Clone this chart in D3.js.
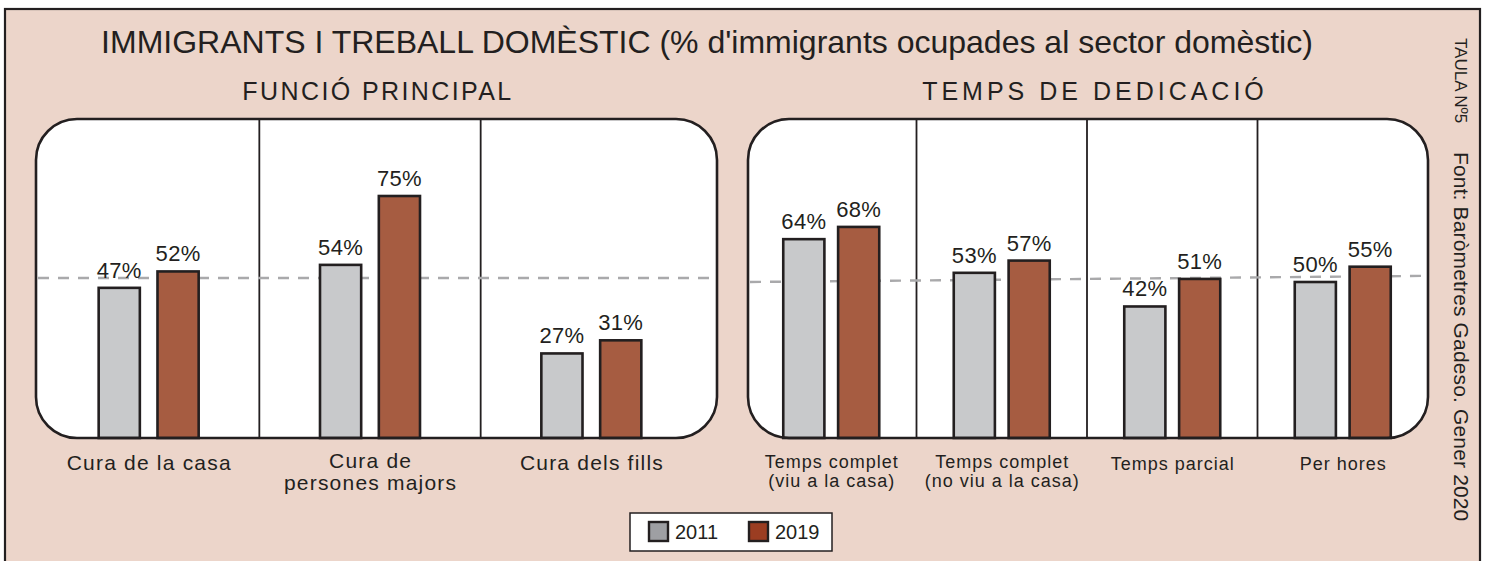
<!DOCTYPE html>
<html>
<head>
<meta charset="utf-8">
<script src="https://cdn.jsdelivr.net/npm/d3@7"></script>
<style>
  html, body { margin: 0; padding: 0; background: #ffffff; }
  svg { display: block; font-family: "Liberation Sans", Arial, Helvetica, sans-serif; }
</style>
</head>
<body>
<svg id="chart" width="1487" height="561"></svg>
<script>
// ---------- DATA ----------
const years = ["2011", "2019"];
const funcioCategories = ["Cura de la casa", "Cura de|persones majors", "Cura dels fills"];
const funcio2011 = [47, 54, 27];
const funcio2019 = [52, 75, 31];
const funcioReference = [50, 50];           // dashed reference line (start, end)

const tempsCategories = ["Temps complet|(viu a la casa)", "Temps complet|(no viu a la casa)", "Temps parcial", "Per hores"];
const temps2011 = [64, 53, 42, 50];
const temps2019 = [68, 57, 51, 55];
const tempsReference = [50, 52];            // dashed reference line (start, end)

const titleText = "IMMIGRANTS I TREBALL DOMÈSTIC (% d'immigrants ocupades al sector domèstic)";
const funcioTitle = "FUNCIÓ PRINCIPAL";
const tempsTitle = "TEMPS DE DEDICACIÓ";
const tableLabel = "TAULA Nº5";
const sourceLabel = "Font: Baròmetres Gadeso. Gener 2020";

// ---------- STYLE ----------
const C = {
  bg: "#ecd5ca",
  ink: "#231f20",
  bar: { "2011": "#c8c9cb", "2019": "#a65c41" },
  legend: { "2011": "#9e9fa3", "2019": "#9b3d22" },
  dash: "#a9a9ab"
};

const svg = d3.select("#chart");

// outer frame
svg.append("rect")
  .attr("x", 5).attr("y", 9).attr("width", 1475).attr("height", 600)
  .attr("fill", C.bg).attr("stroke", C.ink).attr("stroke-width", 2.2);

// title
svg.append("text")
  .attr("x", 707).attr("y", 53)
  .attr("text-anchor", "middle")
  .attr("font-size", 32).attr("fill", C.ink)
  .text(titleText);

// vertical side texts
svg.append("text")
  .attr("transform", "translate(1455,38) rotate(90)")
  .attr("font-size", 17).attr("fill", C.ink)
  .text(tableLabel);
svg.append("text")
  .attr("transform", "translate(1454,152) rotate(90)")
  .attr("font-size", 21).attr("fill", C.ink)
  .attr("letter-spacing", 0.15)
  .text(sourceLabel);

function panel(cfg) {
  const g = svg.append("g");
  const { categories, v2011, v2019, reference, px0, px1, top, bottom, bandRange, yRange,
          groupWidth, labelSize, labelSpacing, lineGap, subtitle, subX, subSpacing } = cfg;

  const x = d3.scaleBand().domain(categories).range(bandRange);
  const x1 = d3.scaleBand().domain(years)
    .range([-groupWidth / 2, groupWidth / 2]).paddingInner(cfg.innerPad);
  const y = d3.scaleLinear().domain([0, 100]).range(yRange);

  // subtitle
  svg.append("text")
    .attr("x", subX).attr("y", 100)
    .attr("text-anchor", "middle")
    .attr("font-size", 25).attr("letter-spacing", subSpacing).attr("fill", C.ink)
    .text(subtitle);

  // panel background
  g.append("rect")
    .attr("x", px0).attr("y", top)
    .attr("width", px1 - px0).attr("height", bottom - top)
    .attr("rx", 41).attr("ry", 41)
    .attr("fill", "#ffffff");

  // dividers
  categories.slice(1).forEach(c => {
    g.append("line")
      .attr("x1", x(c)).attr("x2", x(c))
      .attr("y1", top).attr("y2", bottom)
      .attr("stroke", C.ink).attr("stroke-width", 1.8);
  });

  // dashed reference line
  g.append("line")
    .attr("x1", px0 + 2).attr("x2", px1 - 5)
    .attr("y1", y(reference[0])).attr("y2", y(reference[1]))
    .attr("stroke", C.dash).attr("stroke-width", 2.4)
    .attr("stroke-dasharray", "11,9");

  const rows = [];
  categories.forEach((c, i) => {
    rows.push({ cat: c, year: "2011", v: v2011[i] });
    rows.push({ cat: c, year: "2019", v: v2019[i] });
  });
  const cx = d => x(d.cat) + x.bandwidth() / 2 + x1(d.year);

  // bars
  g.selectAll("rect.bar").data(rows).join("rect")
    .attr("class", "bar")
    .attr("x", d => cx(d))
    .attr("y", d => y(d.v))
    .attr("width", x1.bandwidth())
    .attr("height", d => bottom - y(d.v))
    .attr("fill", d => C.bar[d.year])
    .attr("stroke", C.ink).attr("stroke-width", 2.6);

  // value labels
  g.selectAll("text.val").data(rows).join("text")
    .attr("class", "val")
    .attr("x", d => cx(d) + x1.bandwidth() / 2)
    .attr("y", d => y(d.v) - 10)
    .attr("text-anchor", "middle")
    .attr("font-size", 22).attr("letter-spacing", 0.3).attr("fill", C.ink)
    .text(d => d.v + "%");

  // panel outline (on top)
  g.append("rect")
    .attr("x", px0).attr("y", top)
    .attr("width", px1 - px0).attr("height", bottom - top)
    .attr("rx", 41).attr("ry", 41)
    .attr("fill", "none").attr("stroke", C.ink).attr("stroke-width", 2.6);

  // category labels
  categories.forEach(c => {
    const lines = c.split("|");
    const t = svg.append("text")
      .attr("text-anchor", "middle")
      .attr("font-size", labelSize).attr("letter-spacing", labelSpacing)
      .attr("fill", C.ink);
    lines.forEach((ln, k) => {
      t.append("tspan")
        .attr("x", x(c) + x.bandwidth() / 2 + labelSpacing / 2)
        .attr("y", (lines.length > 1 ? 468 : 470) + k * lineGap)
        .text(ln);
    });
  });
}

panel({
  categories: funcioCategories, v2011: funcio2011, v2019: funcio2019, reference: funcioReference,
  px0: 36, px1: 717, top: 119, bottom: 438,
  bandRange: [38, 702], yRange: [442, 114],
  groupWidth: 100, innerPad: 0.3,
  labelSize: 21, labelSpacing: 1.2, lineGap: 22,
  subtitle: funcioTitle, subX: 378, subSpacing: 2.4
});

panel({
  categories: tempsCategories, v2011: temps2011, v2019: temps2019, reference: tempsReference,
  px0: 748, px1: 1428, top: 119, bottom: 438,
  bandRange: [746, 1428], yRange: [435, 129],
  groupWidth: 96, innerPad: 0.25,
  labelSize: 18, labelSpacing: 1.0, lineGap: 19,
  subtitle: tempsTitle, subX: 1095, subSpacing: 4.0
});

// legend
const lg = svg.append("g");
lg.append("rect")
  .attr("x", 630).attr("y", 513).attr("width", 202).attr("height", 38)
  .attr("fill", "#ffffff").attr("stroke", C.ink).attr("stroke-width", 1.5);
const legendX = d3.scalePoint().domain(years).range([649, 749]);
years.forEach(yr => {
  lg.append("rect")
    .attr("x", legendX(yr)).attr("y", 522)
    .attr("width", 19).attr("height", 19)
    .attr("fill", C.legend[yr]).attr("stroke", C.ink).attr("stroke-width", 2.4);
  lg.append("text")
    .attr("x", legendX(yr) + 26).attr("y", 539)
    .attr("font-size", 20).attr("fill", C.ink)
    .text(yr);
});
</script>
</body>
</html>
